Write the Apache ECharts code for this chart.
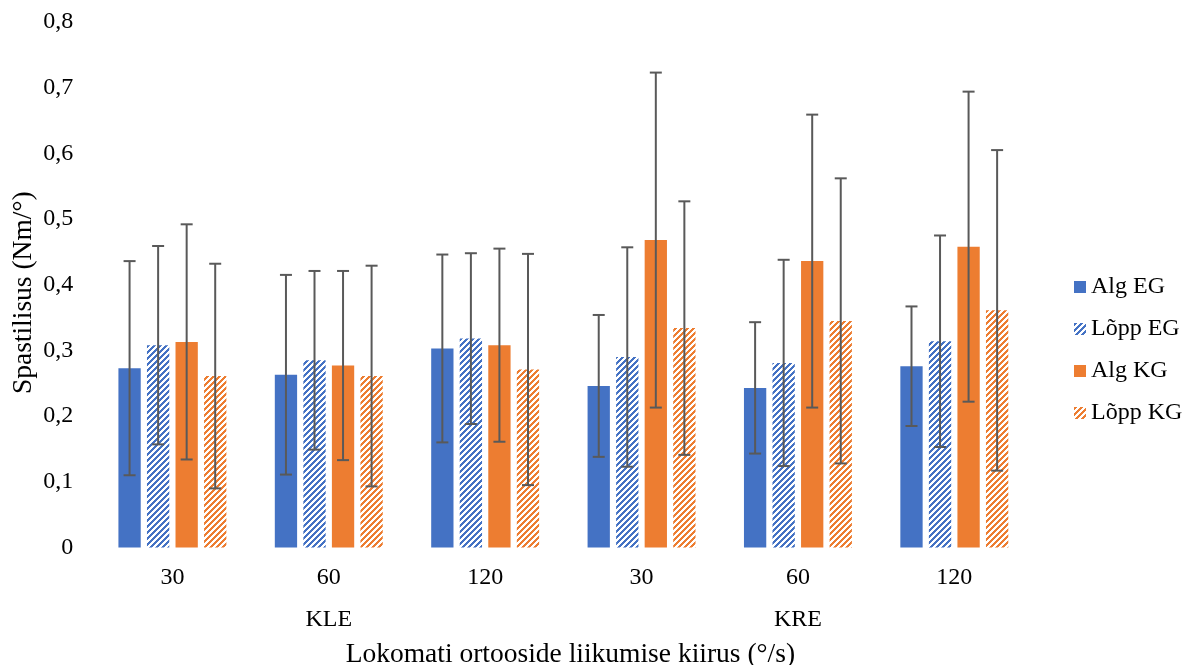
<!DOCTYPE html>
<html>
<head>
<meta charset="utf-8">
<script src="https://cdn.jsdelivr.net/npm/echarts@6/dist/echarts.min.js"></script>
<style>
html,body{margin:0;padding:0;background:#fff;}
#chart{width:1186px;height:665px;}
</style>
</head>
<body>
<div id="chart"></div>
<script>
// ---- data ----
const categories = ['30', '60', '120', '30', '60', '120'];
const groups = ['KLE', 'KRE'];
const seriesNames = ['Alg EG', 'Lõpp EG', 'Alg KG', 'Lõpp KG'];
const algEG   = [0.273, 0.263, 0.303, 0.246, 0.243, 0.276];
const loppEG  = [0.308, 0.285, 0.318, 0.290, 0.281, 0.314];
const algKG   = [0.313, 0.277, 0.308, 0.468, 0.436, 0.458];
const loppKG  = [0.261, 0.261, 0.271, 0.334, 0.345, 0.361];
const sdAlgEG  = [0.163, 0.152, 0.143, 0.108, 0.100, 0.091];
const sdLoppEG = [0.151, 0.136, 0.130, 0.167, 0.157, 0.161];
const sdAlgKG  = [0.179, 0.144, 0.147, 0.255, 0.223, 0.236];
const sdLoppKG = [0.171, 0.168, 0.176, 0.193, 0.217, 0.244];
const yTicks = { min: 0, max: 0.8, interval: 0.1 };
const xTitle = 'Lokomati ortooside liikumise kiirus (°/s)';
const yTitle = 'Spastilisus (Nm/°)';

// ---- style ----
const BLUE = '#4472C4', ORANGE = '#ED7D31', ERR = '#595959';
const FONT = 'Liberation Serif';
const LBL = 24, TTL = 27.5;
const BAR_W = 22.3, GAP = 0.28;

function stripes(color) {
  const s = 6, c = document.createElement('canvas');
  c.width = s; c.height = s;
  const ctx = c.getContext('2d');
  ctx.fillStyle = '#fff'; ctx.fillRect(0, 0, s, s);
  ctx.fillStyle = color;
  for (let x = 0; x < s; x++) for (let y = 0; y < s; y++)
    if ((x + y) % s < 3) ctx.fillRect(x, y, 1, 1);
  return { image: c, repeat: 'repeat' };
}

const means = [algEG, loppEG, algKG, loppKG];
const sds = [sdAlgEG, sdLoppEG, sdAlgKG, sdLoppKG];
const fills = [BLUE, stripes(BLUE), ORANGE, stripes(ORANGE)];

const series = [];
means.forEach((m, i) => {
  series.push({
    name: seriesNames[i], type: 'bar', data: m,
    barWidth: BAR_W, barGap: (GAP * 100) + '%',
    itemStyle: { color: fills[i] }, emphasis: { disabled: true }, z: 2
  });
});
means.forEach((m, i) => {
  series.push({
    type: 'custom', z: 5, silent: true,
    data: m.map((v, k) => [k, v, sds[i][k]]),
    renderItem: function (params, api) {
      const c = api.value(0), v = api.value(1), sd = api.value(2);
      const step = BAR_W * (1 + GAP);
      const x = api.coord([c, v])[0] + (i - 1.5) * step;
      const yT = api.coord([c, v + sd])[1], yB = api.coord([c, v - sd])[1];
      const st = { stroke: ERR, lineWidth: 2 };
      const hw = 6;
      return { type: 'group', children: [
        { type: 'line', shape: { x1: x, y1: yT, x2: x, y2: yB }, style: st },
        { type: 'line', shape: { x1: x - hw, y1: yT, x2: x + hw, y2: yT }, style: st },
        { type: 'line', shape: { x1: x - hw, y1: yB, x2: x + hw, y2: yB }, style: st }
      ]};
    }
  });
});

const chart = echarts.init(document.getElementById('chart'), null, { renderer: 'canvas' });
chart.setOption({
  animation: false,
  backgroundColor: '#fff',
  textStyle: { fontFamily: FONT },
  grid: { left: 94.2, right: 1186 - 1032.5, top: 22, bottom: 665 - 547.5,
          containLabel: false, outerBoundsMode: 'none' },
  legend: {
    data: seriesNames, orient: 'vertical', left: 1069, top: 270,
    icon: 'rect', itemWidth: 12, itemHeight: 12, itemGap: 18,
    textStyle: { fontFamily: FONT, fontSize: LBL, color: '#000', lineHeight: 24 },
    selectedMode: false
  },
  xAxis: [
    { type: 'category', data: categories, position: 'bottom',
      axisLine: { show: false }, axisTick: { show: false },
      axisLabel: { margin: 18.5, fontFamily: FONT, fontSize: LBL, color: '#000' } },
    { type: 'category', data: groups, position: 'bottom', offset: 42,
      axisLine: { show: false }, axisTick: { show: false },
      axisLabel: { margin: 18.5, fontFamily: FONT, fontSize: LBL, color: '#000' },
      name: xTitle, nameLocation: 'middle', nameGap: 51, nameMoveOverlap: false,
      nameTextStyle: { fontFamily: FONT, fontSize: TTL, color: '#000', padding: [0, 0, 0, 14] } }
  ],
  yAxis: {
    type: 'value', min: yTicks.min, max: yTicks.max, interval: yTicks.interval,
    axisLine: { show: false }, axisTick: { show: false }, splitLine: { show: false },
    axisLabel: { margin: 21, fontFamily: FONT, fontSize: LBL, color: '#000',
      formatter: v => v === 0 ? '0' : v.toFixed(1).replace('.', ',') },
    name: yTitle, nameLocation: 'middle', nameGap: 56.5, nameMoveOverlap: false,
    nameTextStyle: { fontFamily: FONT, fontSize: TTL, color: '#000', padding: [0, 16, 0, 0] }
  },
  series: series
});
</script>
</body>
</html>
